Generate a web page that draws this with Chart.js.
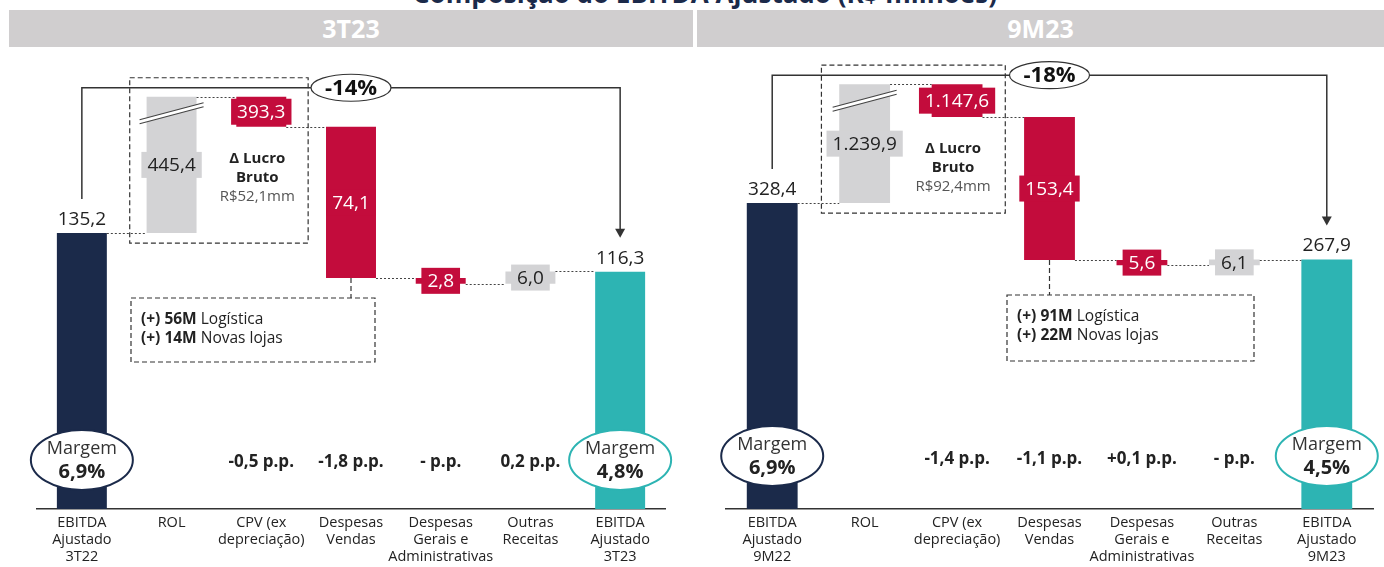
<!DOCTYPE html>
<html>
<head>
<meta charset="utf-8">
<script src="https://cdn.jsdelivr.net/npm/chart.js@4.4.0/dist/chart.umd.min.js"></script>
<style>
  html, body { margin: 0; padding: 0; background: #fff; }
  body { width: 1384px; height: 567px; position: relative; overflow: hidden; font-family: "Open Sans", sans-serif; }
  .title { position: absolute; left: 0; width: 1410px; top: -20px; text-align: center; font-size: 26px; line-height: 26px; font-weight: 700; color: #1b2a4a; }
  .band { position: absolute; top: 10px; height: 37px; background: #d0cecf; color: #fff; font-weight: 700; font-size: 25px; line-height: 37px; text-align: center; }
  .panel { position: absolute; top: 50px; height: 517px; }
</style>
</head>
<body>
<div class="title">Composição do EBITDA Ajustado (R$ milhões)</div>
<div class="band" style="left:9px;width:684px">3T23</div>
<div class="band" style="left:697px;width:687px">9M23</div>
<div class="panel" style="left:0;width:695px"><canvas id="c3t"></canvas></div>
<div class="panel" style="left:697px;width:687px"><canvas id="c9m"></canvas></div>

<script>
// ---- data ----
const labels3T = [["EBITDA", "Ajustado", "3T22"], "ROL", ["CPV (ex", "depreciação)"], ["Despesas", "Vendas"], ["Despesas", "Gerais e", "Administrativas"], ["Outras", "Receitas"], ["EBITDA", "Ajustado", "3T23"]];
const values3T = [135.2, 445.4, -393.3, -74.1, -2.8, 6.0, 116.3];
const pp3T = [null, null, "-0,5 p.p.", "-1,8 p.p.", "- p.p.", "0,2 p.p.", null];
const margins3T = ["6,9%", "4,8%"];
const change3T = "-14%";
const lucro3T = "R$52,1mm";
const notes3T = [["(+) 56M", " Logística"], ["(+) 14M", " Novas lojas"]];
const cap3T = 202; // ROL / CPV bars are drawn broken at this level

const labels9M = [["EBITDA", "Ajustado", "9M22"], "ROL", ["CPV (ex", "depreciação)"], ["Despesas", "Vendas"], ["Despesas", "Gerais e", "Administrativas"], ["Outras", "Receitas"], ["EBITDA", "Ajustado", "9M23"]];
const values9M = [328.4, 1239.9, -1147.6, -153.4, -5.6, 6.1, 267.9];
const pp9M = [null, null, "-1,4 p.p.", "-1,1 p.p.", "+0,1 p.p.", "- p.p.", null];
const margins9M = ["6,9%", "4,5%"];
const change9M = "-18%";
const lucro9M = "R$92,4mm";
const notes9M = [["(+) 91M", " Logística"], ["(+) 22M", " Novas lojas"]];
const cap9M = 456;

const NAVY = "#1b2a4a", RED = "#c30c3c", GRAY = "#d3d3d5", TEAL = "#2db4b3", INK = "#222";
const FONT = '"Open Sans", sans-serif';

function fmt(v) {
  const s = Math.abs(v).toFixed(1).split(".");
  return s[0].replace(/\B(?=(\d{3})+(?!\d))/g, ".") + "," + s[1];
}

// floating bars for the waterfall, plus the running level after each step
function waterfall(values, cap) {
  const bars = [], levels = [];
  let level = 0;
  values.forEach((v, i) => {
    if (i === 0 || i === values.length - 1) {
      bars.push([0, v]);
      level = v;
    } else {
      const next = level + v;
      bars.push([Math.min(level, next), Math.min(Math.max(level, next), cap)]);
      level = next;
    }
    levels.push(Math.min(level, cap));
  });
  return { bars, levels };
}

function barColors(values) {
  return values.map((v, i) => i === 0 ? NAVY : i === values.length - 1 ? TEAL : v > 0 ? GRAY : RED);
}

function annotations(p, wf, colors) {
  return {
    id: "annotations",
    afterDatasetsDraw(chart) {
      const { ctx } = chart;
      const x = chart.scales.x, y = chart.scales.y;
      const bars = chart.getDatasetMeta(0).data;
      const n = p.values.length;
      const capY = y.getPixelForValue(p.cap);
      const arrowY = capY - 9;
      ctx.save();

      // dotted connectors between bars
      ctx.strokeStyle = "#444";
      ctx.lineWidth = 1;
      ctx.setLineDash([2, 2]);
      for (let i = 0; i < n - 1; i++) {
        const yy = Math.round(y.getPixelForValue(wf.levels[i])) + 0.5;
        ctx.beginPath();
        ctx.moveTo(bars[i].x + bars[i].width / 2, yy);
        ctx.lineTo(bars[i + 1].x - bars[i + 1].width / 2, yy);
        ctx.stroke();
      }

      // break marks on ROL bar
      ctx.setLineDash([]);
      const rol = bars[1];
      const bx0 = rol.x - 32, bx1 = rol.x + 32;
      ctx.fillStyle = "#fff";
      ctx.beginPath();
      ctx.moveTo(bx0, capY + 27); ctx.lineTo(bx1, capY + 10);
      ctx.lineTo(bx1, capY + 6); ctx.lineTo(bx0, capY + 23);
      ctx.closePath(); ctx.fill();
      ctx.strokeStyle = "#444"; ctx.lineWidth = 1.2;
      ctx.beginPath();
      ctx.moveTo(bx0, capY + 27); ctx.lineTo(bx1, capY + 10);
      ctx.moveTo(bx0, capY + 23); ctx.lineTo(bx1, capY + 6);
      ctx.stroke();

      // value labels
      ctx.font = "19px " + FONT;
      ctx.textAlign = "center";
      for (let i = 0; i < n; i++) {
        const b = bars[i];
        const top = Math.min(b.y, b.base), bot = Math.max(b.y, b.base);
        const txt = fmt(p.values[i]);
        if (i === 0 || i === n - 1) {
          ctx.fillStyle = INK;
          ctx.textBaseline = "bottom";
          ctx.fillText(txt, b.x, top - 4);
        } else {
          const cy = (top + bot) / 2;
          const w = ctx.measureText(txt).width + 12;
          ctx.fillStyle = colors[i];
          ctx.fillRect(b.x - w / 2, cy - 13, w, 26);
          ctx.fillStyle = colors[i] === RED ? "#fff" : INK;
          ctx.textBaseline = "middle";
          ctx.fillText(txt, b.x, cy + 1);
        }
      }

      // dashed box around ROL / CPV
      const c1 = x.getPixelForValue(1), c2 = x.getPixelForValue(2), half = (c2 - c1) / 2;
      ctx.strokeStyle = "#333"; ctx.lineWidth = 1.2; ctx.setLineDash([5, 3]);
      const boxTop = arrowY - 10, boxBot = y.getPixelForValue(p.values[0]) + 10;
      ctx.strokeRect(c1 - half + 3, boxTop, c2 + half - c1 + half - 1, boxBot - boxTop);

      // Δ Lucro Bruto
      const ly = y.getPixelForValue(wf.levels[2]) + 32;
      ctx.fillStyle = INK;
      ctx.textBaseline = "middle";
      ctx.font = "bold 15px " + FONT;
      ctx.fillText("Δ Lucro", c2 - 4, ly);
      ctx.fillText("Bruto", c2 - 4, ly + 19);
      ctx.fillStyle = "#555";
      ctx.font = "15px " + FONT;
      ctx.fillText(p.lucro, c2 - 4, ly + 38);

      // arrow from first to last total
      const first = bars[0], last = bars[n - 1];
      ctx.setLineDash([]);
      ctx.strokeStyle = "#333"; ctx.lineWidth = 1.5;
      const yEnd = last.y - 34;
      ctx.beginPath();
      ctx.moveTo(first.x, first.y - 34);
      ctx.lineTo(first.x, arrowY);
      ctx.lineTo(last.x, arrowY);
      ctx.lineTo(last.x, yEnd - 8);
      ctx.stroke();
      ctx.fillStyle = "#333";
      ctx.beginPath();
      ctx.moveTo(last.x - 5, yEnd - 9); ctx.lineTo(last.x + 5, yEnd - 9); ctx.lineTo(last.x, yEnd);
      ctx.closePath(); ctx.fill();

      // change ellipse
      const ex = bars[3].x;
      ctx.fillStyle = "#fff";
      ctx.lineWidth = 1.2;
      ctx.beginPath();
      ctx.ellipse(ex, arrowY, 40, 13.5, 0, 0, Math.PI * 2);
      ctx.fill(); ctx.stroke();
      ctx.fillStyle = "#111";
      ctx.font = "bold 22px " + FONT;
      ctx.fillText(p.change, ex, arrowY + 1);

      // note box under Despesas Vendas
      const nb = p.noteBox.map((v, k) => k % 2 === 0 ? v - p.offsetX : v - p.offsetY);
      ctx.strokeStyle = "#333"; ctx.lineWidth = 1.2; ctx.setLineDash([5, 3]);
      ctx.beginPath();
      ctx.moveTo(bars[3].x, Math.max(bars[3].y, bars[3].base));
      ctx.lineTo(bars[3].x, nb[1]);
      ctx.stroke();
      ctx.strokeRect(nb[0], nb[1], nb[2] - nb[0], nb[3] - nb[1]);
      ctx.textAlign = "left";
      p.notes.forEach((line, k) => {
        const ty = nb[1] + 22 + k * 19;
        ctx.fillStyle = INK;
        ctx.font = "bold 15.5px " + FONT;
        ctx.fillText(line[0], nb[0] + 10, ty);
        const w = ctx.measureText(line[0]).width;
        ctx.font = "15.5px " + FONT;
        ctx.fillText(line[1], nb[0] + 10 + w, ty);
      });

      // margin ellipses
      ctx.setLineDash([]);
      ctx.textAlign = "center";
      [[first, NAVY, p.margins[0]], [last, TEAL, p.margins[1]]].forEach(([b, col, txt]) => {
        const cy = p.marginY - p.offsetY;
        ctx.fillStyle = "#fff";
        ctx.strokeStyle = col;
        ctx.lineWidth = 2;
        ctx.beginPath();
        ctx.ellipse(b.x, cy, 51, 30, 0, 0, Math.PI * 2);
        ctx.fill(); ctx.stroke();
        ctx.fillStyle = "#333";
        ctx.font = "18px " + FONT;
        ctx.fillText("Margem", b.x, cy - 11);
        ctx.fillStyle = INK;
        ctx.font = "bold 20px " + FONT;
        ctx.fillText(txt, b.x, cy + 12);
      });

      // p.p. labels
      ctx.fillStyle = INK;
      ctx.font = "bold 17px " + FONT;
      p.pp.forEach((t, i) => {
        if (t) ctx.fillText(t, bars[i].x, p.ppY - p.offsetY);
      });

      ctx.restore();
    }
  };
}

function makeChart(p) {
  const wf = waterfall(p.values, p.cap);
  const colors = barColors(p.values);
  return new Chart(document.getElementById(p.canvas), {
    type: "bar",
    data: {
      labels: p.labels,
      datasets: [{
        data: wf.bars,
        backgroundColor: colors,
        borderWidth: 0,
        barPercentage: p.barPct,
        categoryPercentage: 1,
      }],
    },
    options: {
      responsive: true,
      maintainAspectRatio: false,
      animation: false,
      layout: { padding: { left: p.padL, right: p.padR, top: 10, bottom: 0 } },
      plugins: { legend: { display: false }, tooltip: { enabled: false } },
      scales: {
        x: {
          grid: { display: false, drawTicks: false },
          border: { display: true, color: "#333", width: 1.5 },
          ticks: { color: INK, font: { family: FONT, size: 14.5, lineHeight: 1.18 }, padding: 5, maxRotation: 0, autoSkip: false },
          afterFit(s) { s.height = 58; },
        },
        y: { display: false, min: 0, max: p.yMax },
      },
    },
    plugins: [annotations(p, wf, colors)],
  });
}

makeChart({
  canvas: "c3t", offsetX: 0, offsetY: 50,
  labels: labels3T, values: values3T, cap: cap3T, yMax: 220,
  pp: pp3T, margins: margins3T, change: change3T, lucro: lucro3T, notes: notes3T,
  noteBox: [131, 298, 375, 362], marginY: 460, ppY: 462,
  padL: 37, padR: 30, barPct: 0.557,
});

makeChart({
  canvas: "c9m", offsetX: 697, offsetY: 50,
  labels: labels9M, values: values9M, cap: cap9M, yMax: 482,
  pp: pp9M, margins: margins9M, change: change9M, lucro: lucro9M, notes: notes9M,
  noteBox: [1007, 295, 1254, 361], marginY: 456, ppY: 459,
  padL: 29, padR: 11, barPct: 0.55,
});
</script>
</body>
</html>
